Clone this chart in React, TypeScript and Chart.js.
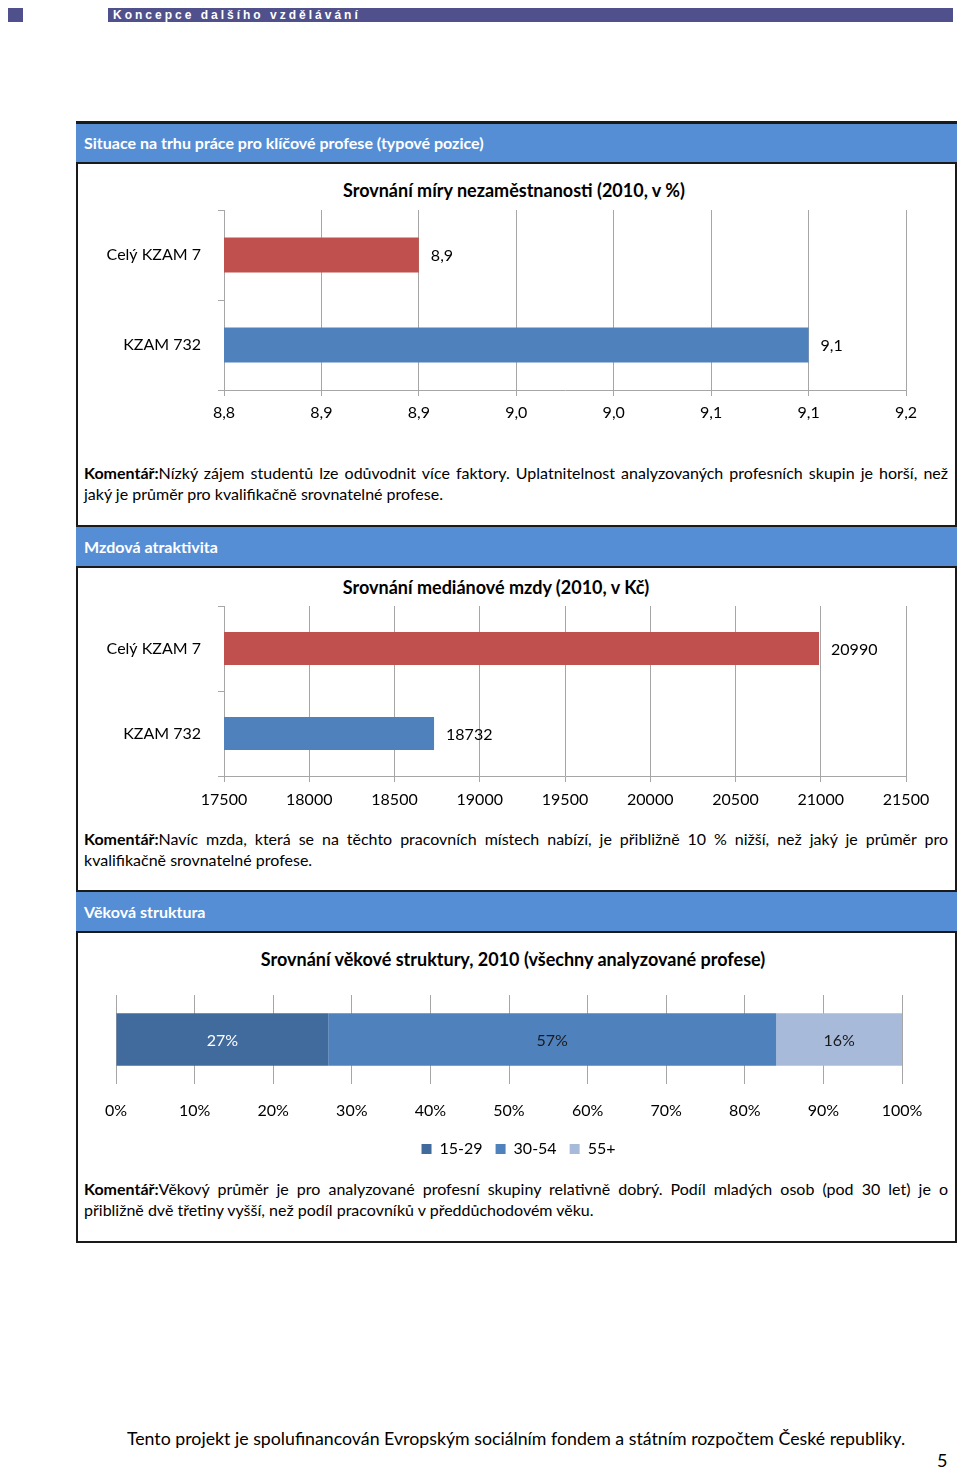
import React, { useEffect, useRef } from 'react';
import { Chart, registerables } from 'chart.js';

Chart.register(...registerables);

const FONT = "Lato, 'Open Sans', 'DejaVu Sans', sans-serif";
const GRID = '#A6A6A6';
const TEXT = '#000000';

// Chart 1 – unemployment rate
const unemploymentCategories = ['Celý KZAM 7', 'KZAM 732'];
const unemploymentValues = [8.9, 9.1];
const unemploymentColors = ['#C0504D', '#4F81BD'];
const unemploymentTicks = ['8,8', '8,9', '8,9', '9,0', '9,0', '9,1', '9,1', '9,2'];
const unemploymentMin = 8.8;
const unemploymentMax = 9.15;
const unemploymentStep = 0.05;

// Chart 2 – median wage
const wageCategories = ['Celý KZAM 7', 'KZAM 732'];
const wageValues = [20990, 18732];
const wageColors = ['#C0504D', '#4F81BD'];
const wageTicks = ['17500', '18000', '18500', '19000', '19500', '20000', '20500', '21000', '21500'];
const wageMin = 17500;
const wageMax = 21500;
const wageStep = 500;

// Chart 3 – age structure
const ageCategory = ['Všechny analyzované profese'];
const ageGroups = ['15-29', '30-54', '55+'];
const ageShares = [27, 57, 16];
const ageColors = ['#416A9D', '#4F81BD', '#A8BADA'];
const ageLabelColors = ['#FFFFFF', '#1A1A1A', '#1A1A1A'];
const ageTicks = ['0%', '10%', '20%', '30%', '40%', '50%', '60%', '70%', '80%', '90%', '100%'];

function valueLabels(format: (v: number) => string, mode: 'end' | 'center', colors?: string[]) {
  return {
    id: 'valueLabels',
    afterDatasetsDraw(chart: any) {
      const ctx = chart.ctx;
      ctx.save();
      ctx.font = `16px ${FONT}`;
      ctx.textBaseline = 'middle';
      chart.data.datasets.forEach((ds: any, di: number) => {
        const meta = chart.getDatasetMeta(di);
        meta.data.forEach((bar: any, i: number) => {
          const v = ds.data[i] as number;
          if (mode === 'end') {
            ctx.textAlign = 'left';
            ctx.fillStyle = TEXT;
            ctx.fillText(format(v), bar.x + 12, bar.y + 1);
          } else {
            ctx.textAlign = 'center';
            ctx.fillStyle = colors ? colors[di] : TEXT;
            ctx.fillText(format(v), (bar.x + bar.base) / 2, bar.y + 1);
          }
        });
      });
      ctx.restore();
    },
  };
}

function ChartCanvas({ config, left, top, width, height }: any) {
  const ref = useRef<HTMLCanvasElement | null>(null);
  useEffect(() => {
    if (!ref.current) return;
    const chart = new Chart(ref.current, config());
    return () => chart.destroy();
  }, []);
  return (
    <canvas
      ref={ref}
      width={width}
      height={height}
      style={{ position: 'absolute', left, top, width, height }}
    />
  );
}

const tickFont = { family: FONT, size: 16 };

function hBarConfig(
  labels: string[],
  values: number[],
  colors: string[],
  min: number,
  max: number,
  step: number,
  tickLabels: string[],
  fmt: (v: number) => string,
  tickPad: number,
  axisHeight: number
) {
  return () => ({
    type: 'bar',
    data: {
      labels,
      datasets: [
        {
          data: values,
          backgroundColor: colors,
          borderWidth: 0,
          barPercentage: 0.39,
          categoryPercentage: 1,
        },
      ],
    },
    options: {
      indexAxis: 'y',
      responsive: false,
      animation: false,
      layout: { padding: { top: 10, right: 48, left: 0, bottom: 0 } },
      plugins: { legend: { display: false }, tooltip: { enabled: false }, title: { display: false } },
      scales: {
        x: {
          min,
          max,
          ticks: {
            stepSize: step,
            color: TEXT,
            font: tickFont,
            padding: tickPad,
            maxRotation: 0,
            autoSkip: false,
            callback: (_v: any, i: number) => tickLabels[i] ?? '',
          },
          grid: { color: GRID, lineWidth: 1, tickLength: 6 },
          border: { color: GRID },
          afterFit: (s: any) => {
            s.height = axisHeight;
          },
        },
        y: {
          ticks: { color: TEXT, font: tickFont, padding: 17 },
          grid: { drawOnChartArea: false, offset: true, color: GRID, tickLength: 6 },
          border: { color: GRID },
          afterFit: (s: any) => {
            s.width = 145;
            s.paddingTop = 0;
            s.paddingBottom = 0;
          },
        },
      },
    },
    plugins: [valueLabels(fmt, 'end')],
  });
}

const unemploymentConfig = hBarConfig(
  unemploymentCategories,
  unemploymentValues,
  unemploymentColors,
  unemploymentMin,
  unemploymentMax,
  unemploymentStep,
  unemploymentTicks,
  (v) => v.toFixed(1).replace('.', ','),
  7,
  45
);

const wageConfig = hBarConfig(
  wageCategories,
  wageValues,
  wageColors,
  wageMin,
  wageMax,
  wageStep,
  wageTicks,
  (v) => String(v),
  8,
  50
);

const ageConfig = () => ({
  type: 'bar',
  data: {
    labels: ageCategory,
    datasets: ageGroups.map((g, i) => ({
      label: g,
      data: [ageShares[i]],
      backgroundColor: ageColors[i],
      borderWidth: 0,
      barPercentage: 0.59,
      categoryPercentage: 1,
    })),
  },
  options: {
    indexAxis: 'y',
    responsive: false,
    animation: false,
    layout: { padding: { top: 10, right: 33, left: 37, bottom: 0 } },
    plugins: {
      tooltip: { enabled: false },
      legend: {
        position: 'bottom',
        labels: { boxWidth: 10, boxHeight: 10, color: TEXT, font: tickFont, padding: 13 },
      },
    },
    scales: {
      x: {
        stacked: true,
        min: 0,
        max: 100,
        ticks: {
          stepSize: 10,
          color: TEXT,
          font: tickFont,
          padding: 17,
          maxRotation: 0,
          autoSkip: false,
          callback: (_v: any, i: number) => ageTicks[i] ?? '',
        },
        grid: { color: GRID, drawTicks: false },
        border: { display: false },
        afterFit: (s: any) => {
          s.height = 44;
        },
      },
      y: { stacked: true, display: false },
      y2: {
        type: 'category',
        position: 'right',
        display: true,
        ticks: { display: false },
        grid: { display: false },
        border: { display: false },
        afterFit: (s: any) => {
          s.width = 19;
          s.paddingTop = 0;
          s.paddingBottom = 0;
        },
      },
    },
  },
  plugins: [valueLabels((v) => `${v}%`, 'center', ageLabelColors)],
});

const headerStyle = (top: number, height: number): React.CSSProperties => ({
  position: 'absolute',
  left: 76,
  top,
  width: 881,
  height,
  boxSizing: 'border-box',
  background: '#558ED5',
  borderTop: '2px solid #1A1A1A',
  borderBottom: '2px solid #1A1A1A',
  color: '#FFFFFF',
  fontFamily: FONT,
  fontWeight: 700,
  fontSize: 16,
  lineHeight: `${height - 4}px`,
  paddingLeft: 8,
});

const titleStyle = (cx: number, cy: number): React.CSSProperties => ({
  position: 'absolute',
  left: cx - 350,
  width: 700,
  top: cy - 11,
  lineHeight: '22px',
  textAlign: 'center',
  fontFamily: FONT,
  fontWeight: 700,
  fontSize: 18,
  color: TEXT,
});

function Comment({ top, bold, line1, line2 }: { top: number; bold: string; line1: string; line2: string }) {
  const base: React.CSSProperties = {
    fontFamily: FONT,
    fontSize: 16,
    lineHeight: '21px',
    color: TEXT,
    whiteSpace: 'nowrap',
  };
  return (
    <div style={{ position: 'absolute', left: 84, top, width: 864 }}>
      <div style={{ ...base, textAlign: 'justify', textAlignLast: 'justify' } as React.CSSProperties}>
        <b>{bold}</b>
        {line1}
      </div>
      <div style={base}>{line2}</div>
    </div>
  );
}

export default function App() {
  return (
    <div style={{ position: 'absolute', left: 0, top: 0, width: 960, height: 1469, background: '#FFFFFF', overflow: 'hidden' }}>
      <div style={{ position: 'absolute', left: 8, top: 8, width: 15, height: 14, background: '#50508C' }} />
      <div
        style={{
          position: 'absolute',
          left: 108,
          top: 8,
          width: 845,
          height: 14,
          background: '#50508C',
          color: '#FFFFFF',
          fontFamily: "'Liberation Sans', Arial, sans-serif",
          fontWeight: 700,
          fontSize: 12,
          lineHeight: '14px',
          letterSpacing: '3px',
          paddingLeft: 5,
          boxSizing: 'border-box',
        }}
      >
        Koncepce dalšího vzdělávání
      </div>

      <div
        style={{
          position: 'absolute',
          left: 76,
          top: 121,
          width: 881,
          height: 1122,
          boxSizing: 'border-box',
          border: '2px solid #1A1A1A',
        }}
      />

      <div style={headerStyle(122, 42)}>Situace na trhu práce pro klíčové profese (typové pozice)</div>
      <div style={titleStyle(514, 190)}>Srovnání míry nezaměstnanosti (2010, v %)</div>
      <ChartCanvas config={unemploymentConfig} left={79} top={200} width={875} height={235} />
      <Comment
        top={462}
        bold="Komentář:"
        line1="Nízký zájem studentů lze odůvodnit více faktory. Uplatnitelnost analyzovaných profesních skupin je horší, než"
        line2="jaký je průměr pro kvalifikačně srovnatelné profese."
      />

      <div style={headerStyle(525, 43)}>Mzdová atraktivita</div>
      <div style={titleStyle(496, 587)}>Srovnání mediánové mzdy (2010, v Kč)</div>
      <ChartCanvas config={wageConfig} left={79} top={596} width={875} height={230} />
      <Comment
        top={828}
        bold="Komentář:"
        line1="Navíc mzda, která se na těchto pracovních místech nabízí, je přibližně 10 % nižší, než jaký je průměr pro"
        line2="kvalifikačně srovnatelné profese."
      />

      <div style={headerStyle(890, 43)}>Věková struktura</div>
      <div style={titleStyle(513, 959)}>Srovnání věkové struktury, 2010 (všechny analyzované profese)</div>
      <ChartCanvas config={ageConfig} left={79} top={985} width={875} height={182} />
      <Comment
        top={1178}
        bold="Komentář:"
        line1="Věkový průměr je pro analyzované profesní skupiny relativně dobrý. Podíl mladých osob (pod 30 let) je o"
        line2="přibližně dvě třetiny vyšší, než podíl pracovníků v předdůchodovém věku."
      />

      <div
        style={{
          position: 'absolute',
          left: 16,
          width: 1000,
          top: 1427,
          lineHeight: '22px',
          textAlign: 'center',
          fontFamily: FONT,
          fontSize: 17.75,
          color: TEXT,
        }}
      >
        Tento projekt je spolufinancován Evropským sociálním fondem a státním rozpočtem České republiky.
      </div>
      <div
        style={{
          position: 'absolute',
          left: 937,
          top: 1449,
          lineHeight: '22px',
          fontFamily: FONT,
          fontSize: 18,
          color: TEXT,
        }}
      >
        5
      </div>
    </div>
  );
}
